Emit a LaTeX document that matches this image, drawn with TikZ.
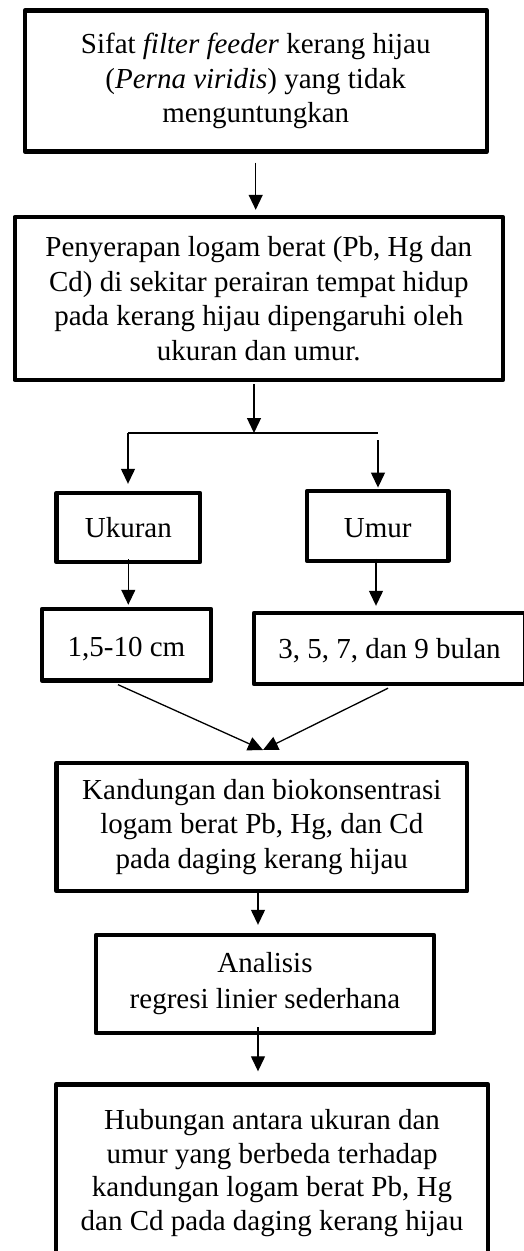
\documentclass[tikz,border=0pt]{standalone}
\usepackage{fontspec}
\setmainfont{Liberation Serif}
\usetikzlibrary{arrows.meta,calc}
\begin{document}
\begin{tikzpicture}[x=1pt,y=-1pt,
  box/.style={draw, line width=4.4pt, line join=round, align=center, inner sep=0pt,
    font=\fontsize{29}{34.5}\selectfont},
  conn/.style={line width=1.3pt, -{Triangle[length=15pt,width=14pt]}},
  plain/.style={line width=1.3pt}]
\useasboundingbox (0,0) rectangle (523,1251);
% boxes
\node[box, minimum width=462pt, minimum height=141pt] (B1) at (255.7,81)
  {Sifat \textit{filter feeder} kerang hijau\\(\textit{Perna viridis}) yang tidak\\menguntungkan};
\node[box, minimum width=488pt, minimum height=163pt] (B2) at (258.8,298.5)
  {Penyerapan logam berat (Pb, Hg dan\\Cd) di sekitar perairan tempat hidup\\pada kerang hijau dipengaruhi oleh\\ukuran dan umur.};
\node[box, minimum width=143.5pt, minimum height=69pt, text height=19pt, text depth=0pt] (Uk) at (128.3,527.5) {Ukuran};
\node[box, minimum width=141.5pt, minimum height=69.5pt, text height=22pt, text depth=0pt] (Um) at (377.7,526) {Umur};
\node[box, minimum width=169pt, minimum height=71.5pt, text height=24pt, text depth=0pt] (C1) at (126.5,644.7) {1,5-10 cm};
\node[box, minimum width=271pt, minimum height=71pt, text height=19pt, text depth=0pt] (C2) at (389.5,648.5) {3, 5, 7, dan 9 bulan};
\node[box, minimum width=410.5pt, minimum height=128.5pt] (K) at (261.8,827)
  {Kandungan dan biokonsentrasi\\logam berat Pb, Hg, dan Cd\\pada daging kerang hijau};
\node[box, minimum width=338pt, minimum height=98pt,
  font=\fontsize{29}{36}\selectfont] (A) at (265,984)
  {Analisis\\regresi linier sederhana};
\node[box, minimum width=432pt, minimum height=177pt,
  font=\fontsize{29}{33.5}\selectfont] (F) at (272,1173)
  {Hubungan antara ukuran dan\\umur yang berbeda terhadap\\kandungan logam berat Pb, Hg\\dan Cd pada daging kerang hijau};
% coordinates
\coordinate (split) at (254,433);
\coordinate (sl) at (128,433);
\coordinate (sr) at (378,433);
\coordinate (merge) at (263,750);
% connectors
\draw[conn, shorten <=9pt, shorten >=5pt] (B1.south) -- (B1.south |- B2.north);
\draw[conn, shorten <=2pt] (split |- B2.south) -- (split);
\draw[plain] (sl) -- (sr);
\draw[conn, shorten >=7pt] (sl) -- (sl |- Uk.north);
\draw[conn, shorten <=7pt, shorten >=1.5pt] (sr) -- (sr |- Um.north);
\draw[conn, shorten <=-5pt, shorten >=2pt] (Uk.south) -- (Uk.south |- C1.north);
\draw[conn, shorten <=-4pt, shorten >=5pt] ([xshift=-1.7pt]Um.south) -- ([xshift=-1.7pt]Um.south |- C2.north);
\draw[conn] ([xshift=-8.5pt,yshift=-2pt]C1.south) -- (merge);
\draw[conn] ([xshift=-1.5pt,yshift=-2pt]C2.south) -- (merge);
\draw[conn, shorten >=8pt] ([xshift=-3.8pt]K.south) -- ([xshift=-3.8pt]K.south |- A.north);
\draw[conn, shorten <=-8pt, shorten >=11pt] ([xshift=-7pt]A.south) -- ([xshift=-7pt]A.south |- F.north);
\end{tikzpicture}
\end{document}
